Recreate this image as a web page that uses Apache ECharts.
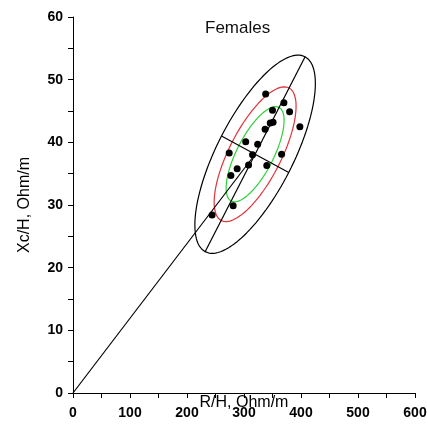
<!DOCTYPE html>
<html>
<head>
<meta charset="UTF-8" />
<title>Females</title>
<script src="https://cdn.jsdelivr.net/npm/echarts@6/dist/echarts.min.js"></script>
<style>
  html, body { margin: 0; padding: 0; background: #fff; }
  #chart { width: 427px; height: 425px; }
</style>
</head>
<body>
<div id="chart"></div>
<script>
// measured points (R/H, Xc/H)
var rVals  = [338, 370, 350, 380, 398, 346, 351, 337, 303, 324, 274, 366, 315, 308, 340, 288, 277, 281, 244];
var xcVals = [47.7, 46.3, 45.1, 44.9, 42.5, 43.1, 43.2, 42.1, 40.1, 39.7, 38.3, 38.1, 38.0, 36.4, 36.3, 35.8, 34.7, 29.9, 28.4];

// ellipse: centre, semi-axis vectors (data units) of the outer (95%) ellipse
var centre = [319.5, 38.1];
var majorVec = [87.7, 15.55];
var minorVec = [59.0, -2.9];
// tolerance ellipses relative to the outer one (50%, 75%, 95%)
var ellScale = [0.481, 0.680, 1.0];
var ellColor = ['#2fcf3a', '#e0333a', '#000000'];

var xTicks = [0, 100, 200, 300, 400, 500, 600];
var yTicks = [0, 10, 20, 30, 40, 50, 60];

function ellipse(k) {
  var pts = [];
  for (var i = 0; i <= 120; i++) {
    var t = i / 120 * Math.PI * 2;
    pts.push([
      centre[0] + k * (Math.cos(t) * majorVec[0] + Math.sin(t) * minorVec[0]),
      centre[1] + k * (Math.cos(t) * majorVec[1] + Math.sin(t) * minorVec[1])
    ]);
  }
  return pts;
}

function lineSeries(data, color) {
  return {
    type: 'line', data: data, showSymbol: false, symbol: 'none',
    lineStyle: { color: color, width: 1.2 }, silent: true, z: 2, animation: false
  };
}

var series = [];
ellScale.forEach(function (k, i) { series.push(lineSeries(ellipse(k), ellColor[i])); });
series.push(lineSeries([[0, 0], centre.slice()], '#000'));
series.push(lineSeries([[centre[0] - majorVec[0], centre[1] - majorVec[1]], [centre[0] + majorVec[0], centre[1] + majorVec[1]]], '#000'));
series.push(lineSeries([[centre[0] - minorVec[0], centre[1] - minorVec[1]], [centre[0] + minorVec[0], centre[1] + minorVec[1]]], '#000'));
series.push({
  type: 'scatter',
  data: rVals.map(function (r, i) { return [r, xcVals[i]]; }),
  symbolSize: 7,
  itemStyle: { color: '#000', opacity: 1 },
  z: 5, animation: false
});

var axisFont = { color: '#000', fontSize: 14, fontWeight: 'bold', fontFamily: 'Liberation Sans, Arial, sans-serif' };

var chart = echarts.init(document.getElementById('chart'));
chart.setOption({
  backgroundColor: '#fff',
  animation: false,
  title: {
    text: 'Females', left: 200, top: 15,
    textStyle: { color: '#111', fontSize: 17, fontWeight: 'normal', fontFamily: 'Liberation Sans, Arial, sans-serif' }
  },
  grid: { left: 73, right: 12, top: 17, bottom: 32, containLabel: false, outerBoundsMode: 'none' },
  xAxis: {
    type: 'value', min: xTicks[0], max: xTicks[xTicks.length - 1], interval: 100,
    name: 'R/H, Ohm/m', nameLocation: 'middle', nameGap: 2, nameMoveOverlap: false,
    nameTextStyle: { color: '#000', fontSize: 16, fontFamily: 'Liberation Sans, Arial, sans-serif', verticalAlign: 'top' },
    axisLine: { show: true, lineStyle: { color: '#000', width: 1 } },
    axisTick: { show: true, length: 5, lineStyle: { color: '#000' } },
    minorTick: { show: true, splitNumber: 2, length: 5, lineStyle: { color: '#000' } },
    axisLabel: Object.assign({ margin: 13 }, axisFont),
    splitLine: { show: false }
  },
  yAxis: {
    type: 'value', min: yTicks[0], max: yTicks[yTicks.length - 1], interval: 10,
    name: 'Xc/H, Ohm/m', nameLocation: 'middle', nameGap: 40, nameRotate: 90,
    nameTextStyle: { color: '#000', fontSize: 16, fontFamily: 'Liberation Sans, Arial, sans-serif' },
    axisLine: { show: true, lineStyle: { color: '#000', width: 1 } },
    axisTick: { show: true, length: 5, lineStyle: { color: '#000' } },
    minorTick: { show: true, splitNumber: 2, length: 5, lineStyle: { color: '#000' } },
    axisLabel: Object.assign({ margin: 10 }, axisFont),
    splitLine: { show: false }
  },
  series: series
});
</script>
</body>
</html>
